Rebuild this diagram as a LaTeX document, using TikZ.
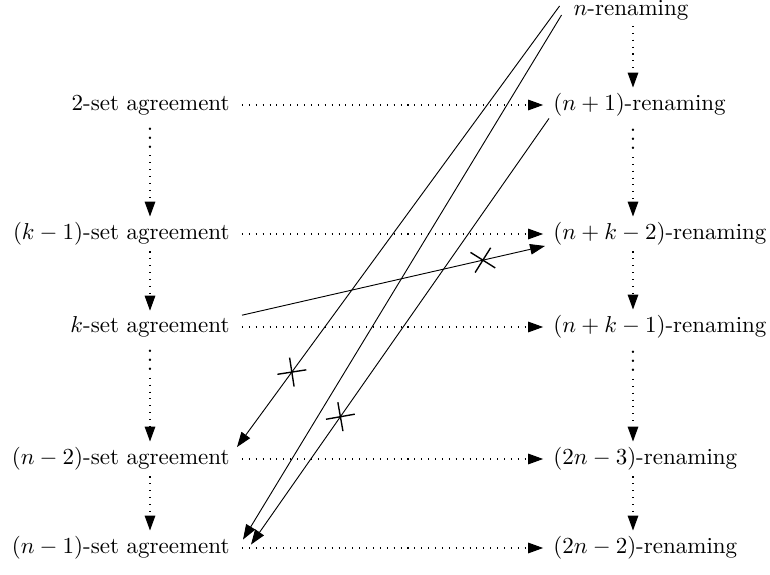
\documentclass[tikz,border=0pt]{standalone}
\usetikzlibrary{arrows.meta,calc,shapes.misc}
\begin{document}
\begin{tikzpicture}[x=0.435pt,y=-0.435pt,
  lab/.style={inner sep=0pt},
  dotarr/.style={draw, line width=0.45pt, dash pattern=on 0.45pt off 2.55pt, -{Triangle[length=6.5pt,width=4.6pt]}},
  solarr/.style={draw, -{Triangle[length=6.5pt,width=4.6pt]}},
  xmark/.style={-, sloped, cross out, draw, solid, line width=0.6pt, minimum size=8.4pt, inner sep=0pt},
  vd/.style={inner sep=0pt, anchor=base, font=\boldmath}]
\useasboundingbox (0,0) rectangle (770,575);
% columns
\coordinate (lc) at (150,0);
\coordinate (rc) at (633,0);
% left nodes
\node[lab, anchor=east] (L1) at (230,105) {2-set agreement};
\node[lab, anchor=east] (L2) at (230,234) {$(k-1)$-set agreement};
\node[lab, anchor=east] (L3) at (230,327) {$k$-set agreement};
\node[lab, anchor=east] (L4) at (230,459) {$(n-2)$-set agreement};
\node[lab, anchor=east] (L5) at (230,548) {$(n-1)$-set agreement};
% right nodes
\node[lab] (R0) at (631,10) {$n$-renaming};
\node[lab, anchor=west] (R1) at (553,105) {$(n+1)$-renaming};
\node[lab, anchor=west] (R2) at (553,234) {$(n+k-2)$-renaming};
\node[lab, anchor=west] (R3) at (553,327) {$(n+k-1)$-renaming};
\node[lab, anchor=west] (R4) at (553,459) {$(2n-3)$-renaming};
\node[lab, anchor=west] (R5) at (553,548) {$(2n-2)$-renaming};
% horizontal dotted arrows
\foreach \i in {1,...,5}
  \draw[dotarr, shorten <=5.2pt, shorten >=4.3pt] (L\i.east) -- (R\i.west);
% vdots
\node[vd] (v1) at ($(L1.south -| lc)+(0,33)$) {$\vdots$};
\node[vd] (v3) at ($(L3.south -| lc)+(0,33)$) {$\vdots$};
\node[vd] (w1) at ($(R1.south -| rc)+(0,33)$) {$\vdots$};
\node[vd] (w3) at ($(R3.south -| rc)+(0,33)$) {$\vdots$};
% left vertical arrows
\draw[dotarr, shorten <=3pt, shorten >=2.4pt] (v1.base) -- (L2.north -| lc);
\draw[dotarr, shorten <=2.4pt, shorten >=2.4pt] (L2.south -| lc) -- (L3.north -| lc);
\draw[dotarr, shorten <=3pt, shorten >=2.4pt] (v3.base) -- (L4.north -| lc);
\draw[dotarr, shorten <=2.4pt, shorten >=2.4pt] (L4.south -| lc) -- (L5.north -| lc);
% right vertical arrows
\draw[dotarr, shorten <=2.4pt, shorten >=2.4pt] (R0.south -| rc) -- (R1.north -| rc);
\draw[dotarr, shorten <=3pt, shorten >=2.4pt] (w1.base) -- (R2.north -| rc);
\draw[dotarr, shorten <=2.4pt, shorten >=2.4pt] (R2.south -| rc) -- (R3.north -| rc);
\draw[dotarr, shorten <=3pt, shorten >=2.4pt] (w3.base) -- (R4.north -| rc);
\draw[dotarr, shorten <=2.4pt, shorten >=2.4pt] (R4.south -| rc) -- (R5.north -| rc);
% solid arrows
\draw[solarr] ($(R0.west)+(-13.6,-4)$) -- node[xmark, pos=0.83]{} ($(L4.north east)+(7,0)$);
\draw[solarr] ($(R0.west)+(-11.6,5)$) -- ($(L5.north east)+(13,3.5)$);
\draw[solarr] ($(R1.south west)+(-4,1.5)$) -- node[xmark, pos=0.70]{} ($(L5.north east)+(21,8.5)$);
\draw[solarr] ($(L3.north east)+(12,-1)$) -- node[xmark, pos=0.795]{} ($(R2.south west)+(-8,0)$);
\end{tikzpicture}
\end{document}
